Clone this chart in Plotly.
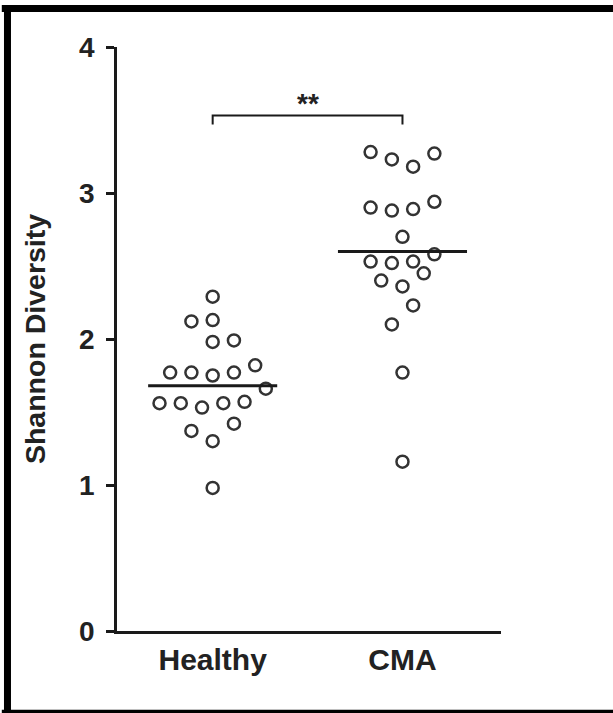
import plotly.graph_objects as go

groups = ["Healthy", "CMA"]
healthy_values = [2.29, 2.12, 2.13, 1.98, 1.99, 1.77, 1.77, 1.75, 1.77, 1.82,
                  1.66, 1.56, 1.56, 1.53, 1.56, 1.57, 1.42, 1.37, 1.30, 0.98]
healthy_jitter = [0, -1, 0, 0, 1, -2, -1, 0, 1, 2,
                  2.5, -2.5, -1.5, -0.5, 0.5, 1.5, 1, -1, 0, 0]
cma_values = [3.28, 3.23, 3.18, 3.27, 2.90, 2.88, 2.89, 2.94, 2.70, 2.53,
              2.52, 2.53, 2.58, 2.45, 2.40, 2.36, 2.23, 2.10, 1.77, 1.16]
cma_jitter = [-1.5, -0.5, 0.5, 1.5, -1.5, -0.5, 0.5, 1.5, 0, -1.5,
              -0.5, 0.5, 1.5, 1, -1, 0, 0.5, -0.5, 0, 0]
medians = [1.68, 2.60]
y_ticks = [0, 1, 2, 3, 4]
significance = "**"

STEP = 0.112
FONT = "Liberation Sans, Arial, sans-serif"

fig = go.Figure()
for gi, (vals, jit) in enumerate([(healthy_values, healthy_jitter), (cma_values, cma_jitter)]):
    fig.add_trace(go.Scatter(
        x=[gi + j * STEP for j in jit], y=vals, mode="markers",
        marker=dict(symbol="circle-open", size=12, color="#333333",
                    line=dict(width=2.5, color="#333333")),
        showlegend=False, hoverinfo="y"))
    fig.add_trace(go.Scatter(
        x=[gi - 0.34, gi + 0.34], y=[medians[gi], medians[gi]], mode="lines",
        line=dict(color="#1a1a1a", width=3), showlegend=False, hoverinfo="skip"))

# significance bracket
fig.add_trace(go.Scatter(x=[0, 0, 1, 1], y=[3.47, 3.53, 3.53, 3.47], mode="lines",
                         line=dict(color="#1a1a1a", width=2), showlegend=False,
                         hoverinfo="skip"))
fig.add_annotation(x=0.5, y=3.53, text="<b>%s</b>" % significance, showarrow=False,
                   yanchor="bottom", yshift=-5, font=dict(size=28, color="#222", family=FONT))

# outer frame (left, top, bottom)
fig.add_shape(type="line", xref="paper", yref="paper", x0=-0.2852, x1=-0.2852,
              y0=-0.15, y1=1.07, line=dict(color="black", width=7))
fig.add_shape(type="line", xref="paper", yref="paper", x0=-0.3, x1=1.3,
              y0=1.0659, y1=1.0659, line=dict(color="black", width=7))
fig.add_shape(type="line", xref="paper", yref="paper", x0=-0.3, x1=1.3,
              y0=-0.141, y1=-0.141, line=dict(color="black", width=7))

fig.update_layout(
    width=613, height=713,
    margin=dict(l=117, r=112, t=47, b=82),
    plot_bgcolor="white", paper_bgcolor="white",
    font=dict(family=FONT, color="#222"),
    xaxis=dict(range=[-0.504, 1.519], tickvals=[0, 1], ticktext=["<b>%s</b>" % g for g in groups],
               showline=True, linecolor="#1a1a1a", linewidth=2.5, ticks="",
               showgrid=False, zeroline=False, tickfont=dict(size=30, color="#222")),
    yaxis=dict(range=[0, 4], tickvals=y_ticks, ticktext=["<b>%d</b>" % t for t in y_ticks],
               showline=True, linecolor="#1a1a1a", linewidth=2.5, ticks="outside",
               ticklen=8, tickwidth=2.5, tickcolor="#1a1a1a", ticklabelstandoff=6,
               showgrid=False, zeroline=False, tickfont=dict(size=28, color="#222"),
               title=dict(text="<b>Shannon Diversity</b>", font=dict(size=28.5, color="#222"),
                          standoff=26)),
)

fig.write_html("out.html")
